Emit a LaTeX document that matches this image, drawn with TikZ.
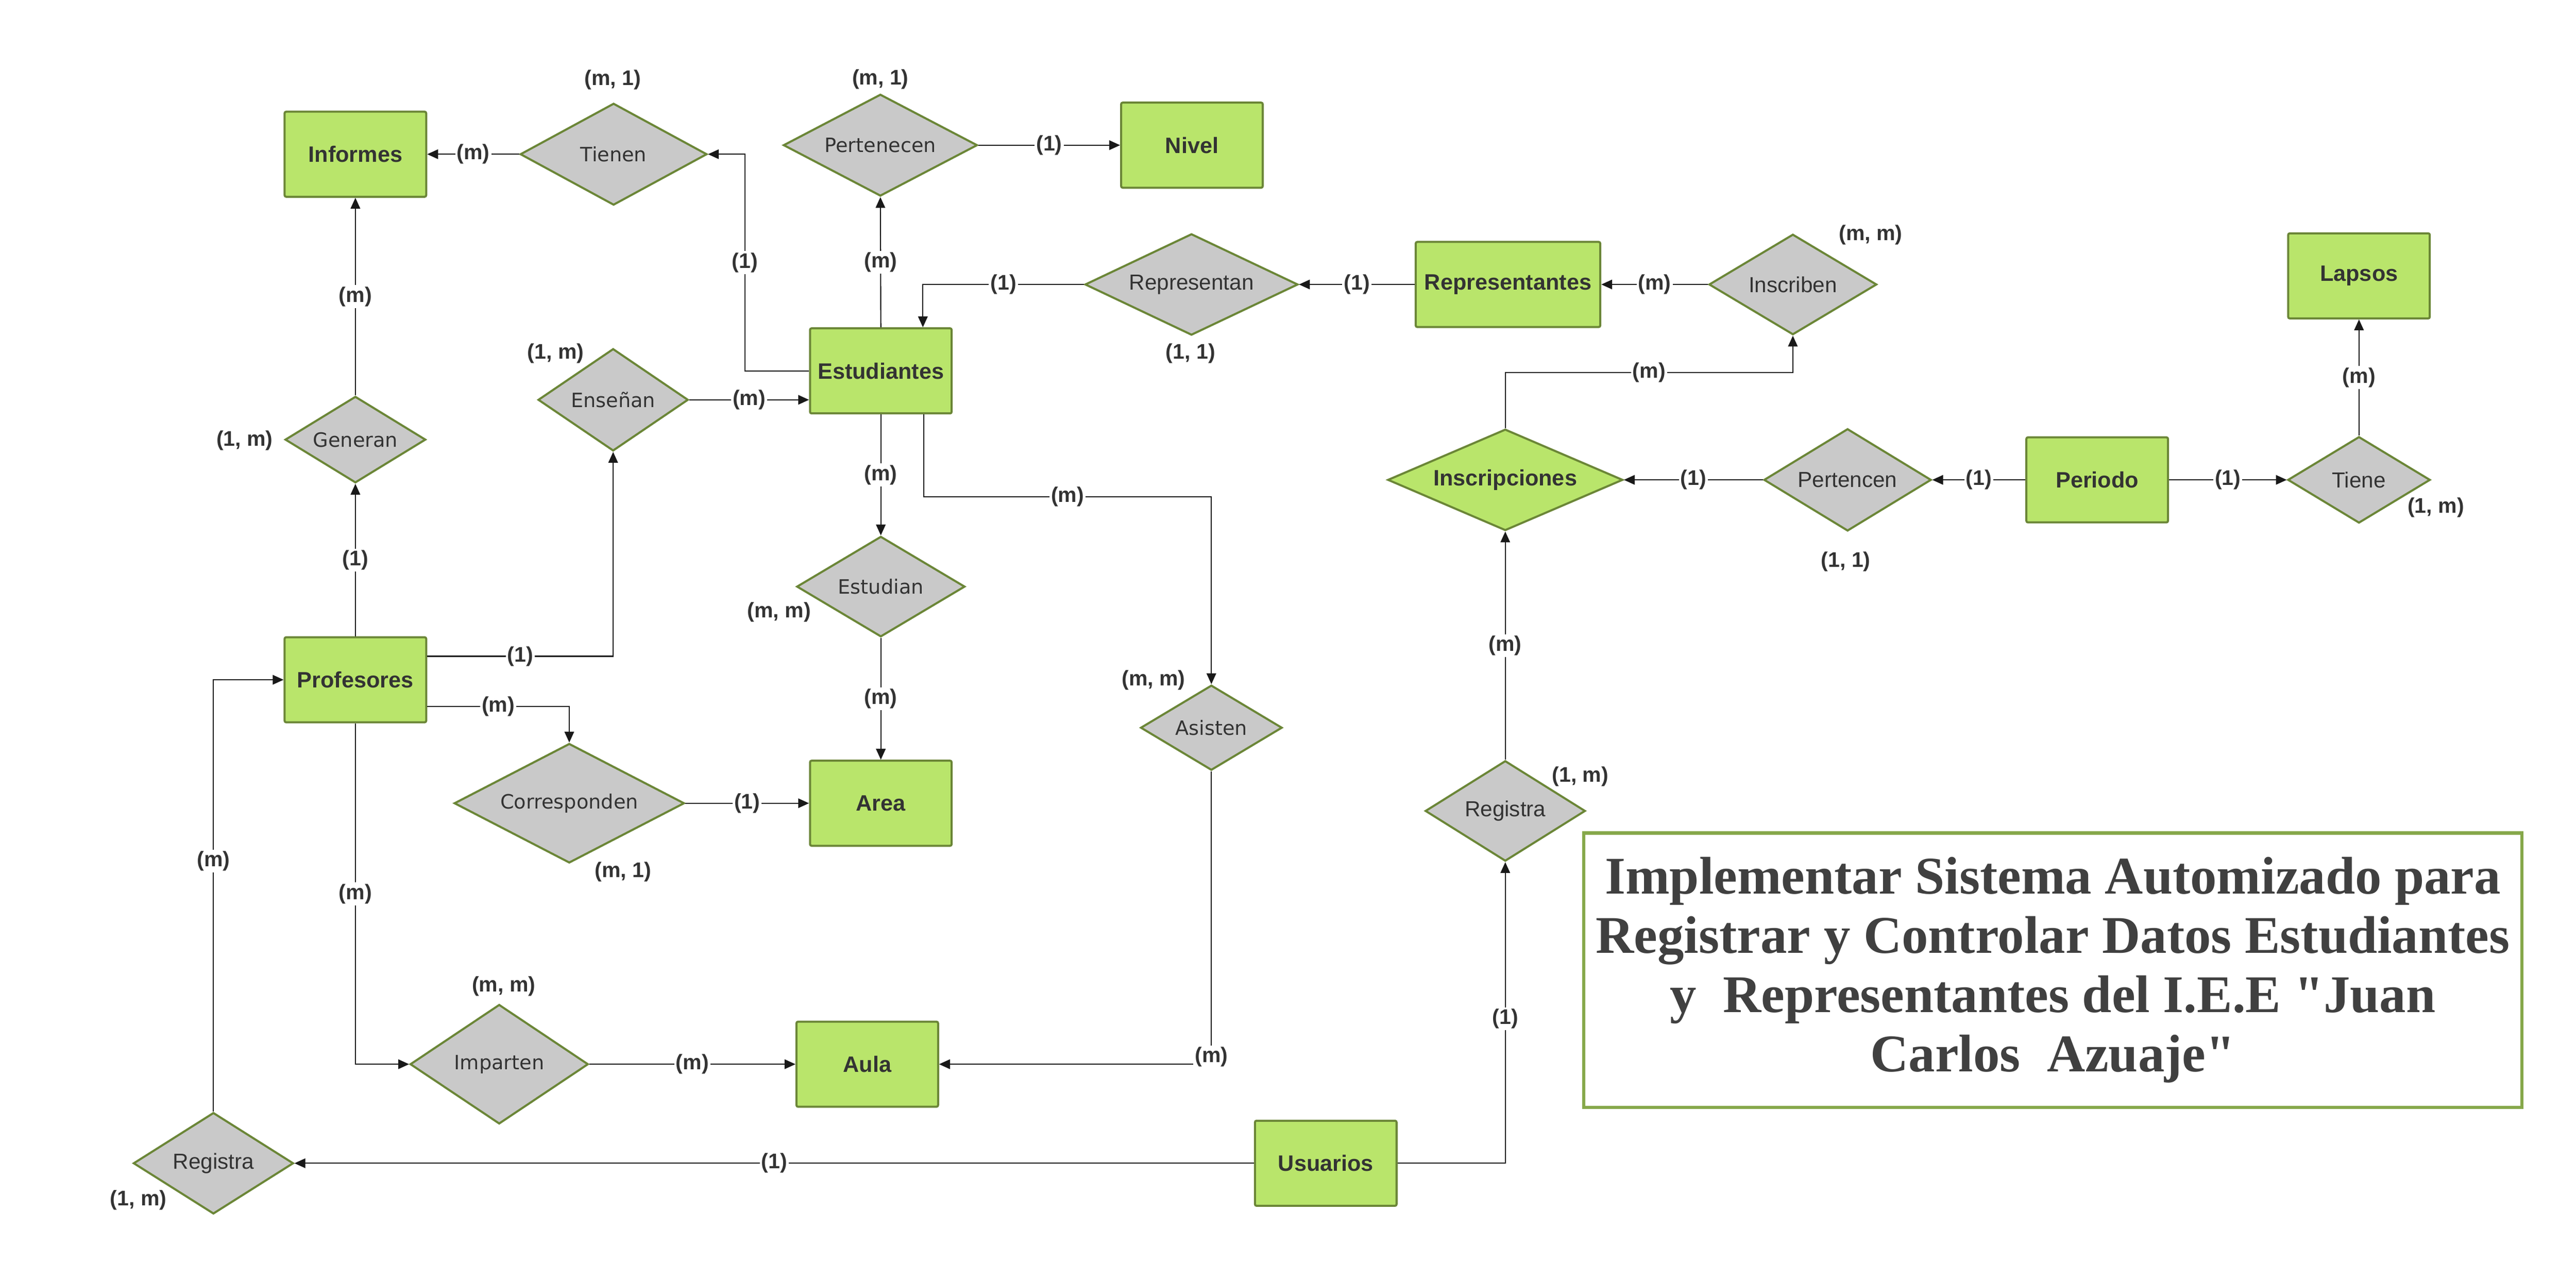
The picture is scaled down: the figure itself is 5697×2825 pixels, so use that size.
\documentclass[tikz,border=0pt]{standalone}
\usepackage{fontspec}
\newfontfamily\arialf{Liberation Sans}
\newfontfamily\comicf{DejaVu Sans}
\newfontfamily\timesf[Ligatures=TeXOff]{Liberation Serif}
\usetikzlibrary{shapes.geometric,arrows.meta,calc}
\definecolor{entfill}{HTML}{B9E56B}
\definecolor{olive}{HTML}{6B8637}
\definecolor{relfill}{HTML}{C9C9C9}
\definecolor{txt}{HTML}{333333}
\definecolor{titleborder}{HTML}{86A84A}
\definecolor{titletxt}{HTML}{404040}
\tikzset{
  sz/.style n args={3}{minimum width=#1*0.01cm, minimum height=#2*0.01cm, aspect=#3},
  entity/.style={rectangle, draw=olive, fill=entfill, line width=1.3pt, rounded corners=1pt,
    minimum width=3.13cm, minimum height=1.88cm, inner sep=0pt, text=txt,
    font=\arialf\bfseries\fontsize{14}{16}\selectfont},
  rel/.style={diamond, draw=olive, fill=relfill, line width=1.3pt, inner sep=0pt, text=txt,
    font=\arialf\fontsize{13.7}{16}\selectfont},
  relc/.style={rel, font=\comicf\fontsize{12.4}{15}\selectfont},
  conn/.style={draw=black!90, line width=0.7pt, -{Triangle[length=6.8pt,width=6pt]}},
  lbl/.style={fill=white, inner sep=1pt, text=txt, font=\arialf\bfseries\fontsize{13.3}{16}\selectfont},
  card/.style={inner sep=0pt, text=txt, font=\arialf\bfseries\fontsize{13.3}{16}\selectfont},
}
\begin{document}
\begin{tikzpicture}[x=0.01cm,y=-0.01cm]
\fill[white] (0,0) rectangle (5697,2825);
\useasboundingbox (0,0) rectangle (5697,2825);

% entities
\node[entity] (informes) at (786,341) {Informes};
\node[entity] (nivel) at (2636,321) {Nivel};
\node[entity] (estudiantes) at (1948,820) {Estudiantes};
\node[entity, minimum width=4.08cm] (representantes) at (3335,629) {Representantes};
\node[entity] (lapsos) at (5217,610) {Lapsos};
\node[entity] (periodo) at (4638,1061) {Periodo};
\node[entity] (profesores) at (786,1503) {Profesores};
\node[entity] (area) at (1948,1776) {Area};
\node[entity] (aula) at (1918,2353) {Aula};
\node[entity] (usuarios) at (2932,2572) {Usuarios};

% relationships
\node[relc, sz={413}{225}{1.836}] (tienen) at (1357,341) {Tienen};
\node[relc, sz={429}{225}{1.907}] (pertenecen) at (1947,321) {Pertenecen};
\node[relc, sz={311}{191}{1.628}] (generan) at (786,972) {Generan};
\node[relc, sz={332}{226}{1.469}] (ensenan) at (1356,884) {Enseñan};
\node[rel, sz={471}{224}{2.103}] (representan) at (2635,629) {Representan};
\node[rel, sz={371}{222}{1.671}] (inscriben) at (3965,629) {Inscriben};
\node[rel, sz={315}{191}{1.649}] (tiene) at (5217,1061) {Tiene};
\node[rel, sz={370}{226}{1.637}] (pertencen) at (4086,1061) {Pertencen};
\node[rel, fill=entfill, font=\arialf\bfseries\fontsize{14}{16}\selectfont, sz={520}{224}{2.321}] (inscripciones) at (3329,1061) {Inscripciones};
\node[relc, sz={372}{222}{1.676}] (estudian) at (1948,1297) {Estudian};
\node[relc, sz={313}{188}{1.665}] (asisten) at (2679,1609) {Asisten};
\node[relc, sz={509}{264}{1.928}] (corresponden) at (1259,1776) {Corresponden};
\node[relc, sz={394}{264}{1.492}] (imparten) at (1104,2353) {Imparten};
\node[rel, sz={354}{224}{1.580}] (registraL) at (472,2572) {Registra};
\node[rel, sz={354}{222}{1.595}] (registraR) at (3329,1793) {Registra};

% connectors
\draw[conn] (tienen.west) -- node[lbl]{(m)} (informes.east);
\draw[conn] (estudiantes.west) -- ++(-142,0) |- node[lbl,pos=0.25]{(1)} (tienen.east);
\draw[conn] (estudiantes.north) -- node[lbl]{(m)} (pertenecen.south);
\draw[conn] (pertenecen.east) -- node[lbl]{(1)} (nivel.west);
\draw[conn] (representan.west) -| node[lbl,pos=0.25]{(1)} ($(estudiantes.north)+(93,0)$);
\draw[conn] (representantes.west) -- node[lbl]{(1)} (representan.east);
\draw[conn] (inscriben.west) -- node[lbl]{(m)} (representantes.east);
\draw[conn] (inscripciones.north) -- ++(0,-123) -| node[lbl,pos=0.25]{(m)} (inscriben.south);
\draw[conn] (tiene.north) -- node[lbl]{(m)} (lapsos.south);
\draw[conn] (periodo.east) -- node[lbl]{(1)} (tiene.west);
\draw[conn] (periodo.west) -- node[lbl]{(1)} (pertencen.east);
\draw[conn] (pertencen.west) -- node[lbl]{(1)} (inscripciones.east);
\draw[conn] (profesores.north) -- node[lbl]{(1)} (generan.south);
\draw[conn] (generan.north) -- node[lbl]{(m)} (informes.south);
\draw[conn] (ensenan.east) -- node[lbl]{(m)} (estudiantes.west |- ensenan.east);
\draw[conn] ($(profesores.east)+(0,-52)$) -| node[lbl,pos=0.25]{(1)} (ensenan.south);
\draw[conn] ($(profesores.east)+(0,59)$) -| node[lbl,pos=0.25]{(m)} (corresponden.north);
\draw[conn] (corresponden.east) -- node[lbl]{(1)} (area.west);
\draw[conn] (estudiantes.south) -- node[lbl]{(m)} (estudian.north);
\draw[conn] (estudian.south) -- node[lbl]{(m)} (area.north);
\draw[conn] ($(estudiantes.south)+(95,0)$) -- ++(0,182) -| node[lbl,pos=0.25]{(m)} (asisten.north);
\draw[conn] (asisten.south) |- node[lbl,pos=0.5,yshift=0.16cm]{(m)} (aula.east);
\draw[conn] (profesores.south) |- node[lbl,pos=0.25]{(m)} (imparten.west);
\draw[conn] (imparten.east) -- node[lbl]{(m)} (aula.west);
\draw[conn] (usuarios.west) -- node[lbl]{(1)} (registraL.east);
\draw[conn] (registraL.north) |- node[lbl,pos=0.29]{(m)} (profesores.west);
\draw[conn] (usuarios.east) -| node[lbl,pos=0.74]{(1)} (registraR.south);
\draw[conn] (registraR.north) -- node[lbl]{(m)} (inscripciones.south);

% cardinalities
\node[card] (c01) at (1355,177) {(m, 1)};
\node[card] (c02) at (1947,175) {(m, 1)};
\node[card] (c03) at (541,974) {(1, m)};
\node[card] (c04) at (1229,781) {(1, m)};
\node[card] (c05) at (2633,781) {(1, 1)};
\node[card] (c06) at (4137,519) {(m, m)};
\node[card] (c07) at (5387,1122) {(1, m)};
\node[card] (c08) at (4082,1242) {(1, 1)};
\node[card] (c09) at (3495,1717) {(1, m)};
\node[card] (c10) at (1723,1354) {(m, m)};
\node[card] (c11) at (2551,1504) {(m, m)};
\node[card] (c12) at (1378,1928) {(m, 1)};
\node[card] (c13) at (1114,2181) {(m, m)};
\node[card] (c14) at (306,2653) {(1, m)};

% title
\node[draw=titleborder, line width=2pt, minimum width=20.74cm, minimum height=6.06cm, inner sep=0pt] (titlebox) at (4540,2145) {};
\node[align=center, text=titletxt, inner sep=0pt, font=\timesf\bfseries\fontsize{33.3}{37.3}\selectfont] (title) at (titlebox.center)
  {Implementar Sistema Automizado para\\Registrar y Controlar Datos Estudiantes\\y\ \ Representantes del I.E.E "Juan\\Carlos\ \ Azuaje"};
\end{tikzpicture}
\end{document}
